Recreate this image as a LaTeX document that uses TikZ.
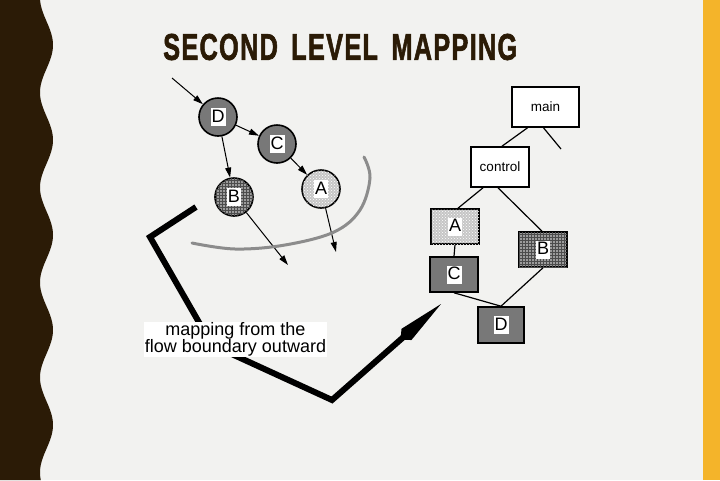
\documentclass[tikz,border=0pt]{standalone}
\usepackage{fontspec}
\usepackage{graphicx}
\setmainfont{Liberation Sans}
\usetikzlibrary{arrows.meta,patterns}
\definecolor{bg}{HTML}{F2F2F0}
\definecolor{darkband}{HTML}{2B1B06}
\definecolor{orangeband}{HTML}{F4B42A}
\definecolor{midgray}{HTML}{787878}
\definecolor{curvegray}{HTML}{8C8C8C}
\definecolor{lightdot}{HTML}{C6C6C6}
\definecolor{checkgray}{HTML}{9C9C9C}
\begin{document}
\begin{tikzpicture}[x=1pt,y=-1pt,
  circnode/.style={circle, draw=black, line width=1.6pt, minimum size=38pt, inner sep=0pt},
  boxnode/.style={rectangle, draw=black, line width=1.6pt, inner sep=0pt},
  letter/.style={fill=white, inner sep=1pt, text height=13pt, text depth=3pt, font=\fontsize{18}{18}\selectfont},
  darkfill/.style={fill=midgray},
  dotfill/.style={fill=lightdot, postaction={pattern=crosshatch dots, pattern color=white}},
  checkfill/.style={fill=checkgray, postaction={pattern=grid, pattern color=black!70}},
  flow/.style={line width=1pt, -{Triangle[length=10pt,width=6pt]}},
  tree/.style={line width=1.2pt},
  bigarrow/.style={line width=6pt, -{Kite[length=54pt,width=15pt,inset=8pt]}},
]
\useasboundingbox (0,0) rectangle (720,480);
% background
\fill[bg] (0,0) rectangle (720,480);
\fill[darkband] (0,0) -- plot[domain=0:480, samples=240] ({46.5+6.5*cos(3.78947*(\x-45))},\x) -- (0,480) -- cycle;
\fill[orangeband] (703,0) rectangle (720,480);

% title
\node[anchor=west, text=darkband, inner sep=0pt] (title) at (163,47)
  {\resizebox{354pt}{26pt}{\addfontfeatures{LetterSpace=5,FakeBold=2}\bfseries SECOND\kern2pt\ LEVEL\kern2pt\ MAPPING}};

% left: circles
\node[circnode, darkfill] (cD) at (218,117) {};
\node[circnode, darkfill] (cC) at (277,144) {};
\node[circnode, checkfill] (cB) at (234,197) {};
\node[circnode, dotfill] (cA) at (321,189) {};
\node[letter] (lD) at (cD) {D};
\node[letter] (lC) at (cC) {C};
\node[letter] (lB) at (cB) {B};
\node[letter] (lA) at (cA) {A};

\coordinate (inD) at (172,78);
\coordinate (outB) at (288,265);
\coordinate (outA) at (336,252);
\draw[flow] (inD) -- (cD);
\draw[flow] (cD) -- (cC);
\draw[flow] (cD) -- (cB);
\draw[flow] (cC) -- (cA);
\draw[flow] (cB) -- (outB);
\draw[flow] (cA) -- (outA);

% boundary curve
\draw[curvegray, line width=3pt, line cap=round] plot[smooth, tension=0.6] coordinates
  {(364,157) (370,178) (360,210) (334,232) (285,245) (235,249) (192,243)};

% big arrow
\coordinate (bs) at (196,207);
\coordinate (bc1) at (150,237);
\coordinate (bc2) at (212,345);
\coordinate (bc3) at (332,400);
\coordinate (be) at (441,304);
\draw[bigarrow] (bs) -- (bc1) -- (bc2) -- (bc3) -- (be);

% caption
\node[fill=white, inner sep=0pt, minimum width=183pt, minimum height=35pt, align=center,
      font=\fontsize{18}{17}\selectfont] (cap) at (235.5,339.5)
  {mapping from the\\flow boundary outward};

% right: tree
\node[boxnode, fill=white, minimum width=67pt, minimum height=40pt, font=\fontsize{13.5}{14}\selectfont] (tmain) at (545.5,107) {main};
\node[boxnode, fill=white, minimum width=58pt, minimum height=40pt, font=\fontsize{13.5}{14}\selectfont] (tcontrol) at (500,167) {control};
\node[boxnode, dotfill, minimum width=48pt, minimum height=35pt] (tA) at (455,226.5) {};
\node[boxnode, checkfill, minimum width=48pt, minimum height=35pt] (tB) at (543,249.5) {};
\node[boxnode, darkfill, minimum width=48pt, minimum height=35pt] (tC) at (454,274.5) {};
\node[boxnode, darkfill, minimum width=46pt, minimum height=36pt] (tD) at (501,325) {};
\node[letter] (ltA) at (tA) {A};
\node[letter] (ltB) at (tB) {B};
\node[letter] (ltC) at (tC) {C};
\node[letter] (ltD) at (tD) {D};

\coordinate (mainfree) at (561,149);
\draw[tree] ([xshift=-18pt]tmain.south) -- ([xshift=2pt]tcontrol.north);
\draw[tree] ([xshift=-2pt]tmain.south) -- (mainfree);
\draw[tree] ([xshift=-17pt]tcontrol.south) -- ([xshift=3pt]tA.north);
\draw[tree] ([xshift=-2pt]tcontrol.south) -- ([xshift=-1pt]tB.north);
\draw[tree] (tA.south) -- (tC.north);
\draw[tree] (tC.south) -- (tD.north);
\draw[tree] (tB.south) -- (tD.north);
\end{tikzpicture}
\end{document}
